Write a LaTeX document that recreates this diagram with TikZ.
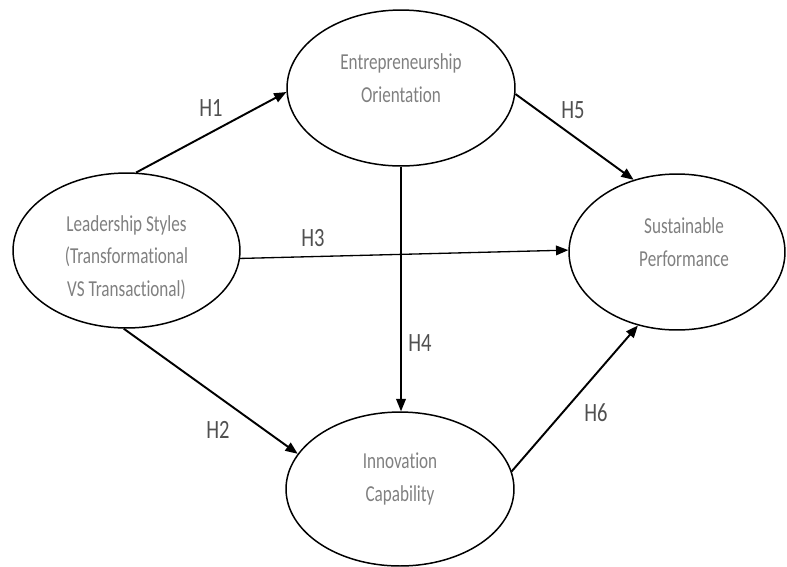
\documentclass[tikz,border=0pt]{standalone}
\usepackage{fontspec}
\usepackage{tikz}
\usetikzlibrary{shapes.geometric, arrows.meta}

\newfontfamily\narrowfont[FakeStretch=0.75, Ligatures=NoCommon]{Carlito}
\newfontfamily\hypfont[FakeStretch=0.78]{Carlito}
\definecolor{textgray}{HTML}{808080}
\definecolor{labelgray}{HTML}{505050}

\begin{document}
\begin{tikzpicture}[x=0.02cm, y=-0.02cm, line width=0.85pt,
    construct/.style={ellipse, draw, inner sep=0pt},
    constructtext/.style={align=center, text=textgray, font=\narrowfont\fontsize{13}{18.5}\selectfont},
    path/.style={-{Triangle[length=7pt, width=5.5pt]}, line width=1.1pt},
    thinpath/.style={-{Triangle[length=7pt, width=5.5pt]}, line width=0.75pt},
    hyp/.style={text=labelgray, font=\hypfont\fontsize{15}{18}\selectfont}]

    \useasboundingbox (0, 0) rectangle (787, 566);

    % draw constructs
    \node[construct, minimum width=4.54cm, minimum height=3.1cm,
        label={[constructtext, yshift=-0.14cm]center:Leadership Styles\\(Transformational\\VS Transactional)}] (lead) at (126.5, 250.5) {};
    \node[construct, minimum width=4.56cm, minimum height=3.12cm,
        label={[constructtext, yshift=0.2cm]center:Entrepreneurship\\Orientation}] (ent) at (401, 88) {};
    \node[construct, minimum width=4.32cm, minimum height=3.12cm,
        label={[constructtext, yshift=0.2cm, xshift=0.14cm]center:Sustainable\\Performance}] (sus) at (677, 252) {};
    \node[construct, minimum width=4.56cm, minimum height=3.08cm,
        label={[constructtext, yshift=0.2cm]center:Innovation\\Capability}] (inn) at (400, 489) {};

    % draw hypothesised paths
    \draw[path] (lead.83) -- (ent.182);
    \draw[path] (lead.268) -- (inn.161);
    \draw[thinpath] (lead.-4) -- (sus.179);
    \draw[thinpath] (ent.south) -- (ent.south |- inn.north);
    \draw[path] (ent.-3) -- (sus.121);
    \draw[path] (inn.9) -- (sus.242);

    % draw path labels
    \node[hyp] (h1) at (211, 108) {H1};
    \node[hyp] (h2) at (218, 430) {H2};
    \node[hyp] (h3) at (313, 238) {H3};
    \node[hyp] (h4) at (420, 343) {H4};
    \node[hyp] (h5) at (573, 110) {H5};
    \node[hyp] (h6) at (596, 413) {H6};

\end{tikzpicture}
\end{document}
